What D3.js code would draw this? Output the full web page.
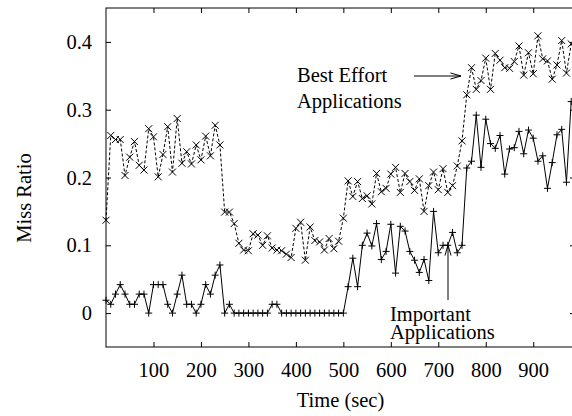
<!DOCTYPE html>
<html><head><meta charset="utf-8">
<script src="https://cdn.jsdelivr.net/npm/d3@7"></script>
<style>body{margin:0;background:#fff}svg{display:block}text{font-family:"Liberation Serif","Times New Roman",serif;fill:#000}</style>
</head><body><svg id="c" width="572" height="416"></svg>
<script>
const times = [0,10,20,30,40,50,60,70,80,90,100,110,120,130,140,150,160,170,180,190,200,210,220,230,240,250,260,270,280,290,300,310,320,330,340,350,360,370,380,390,400,410,420,430,440,450,460,470,480,490,500,510,520,530,540,550,560,570,580,590,600,610,620,630,640,650,660,670,680,690,700,710,720,730,740,750,760,770,780,790,800,810,820,830,840,850,860,870,880,890,900,910,920,930,940,950,960,970,980];
const bestEffort = [0.137,0.262,0.256,0.256,0.203,0.230,0.253,0.218,0.211,0.272,0.260,0.201,0.234,0.275,0.208,0.287,0.221,0.238,0.220,0.248,0.226,0.261,0.232,0.277,0.248,0.149,0.149,0.132,0.103,0.093,0.092,0.117,0.115,0.100,0.114,0.096,0.093,0.092,0.087,0.082,0.125,0.134,0.078,0.127,0.107,0.105,0.093,0.110,0.095,0.106,0.140,0.195,0.172,0.194,0.169,0.173,0.161,0.206,0.179,0.184,0.205,0.215,0.178,0.206,0.194,0.181,0.198,0.150,0.188,0.208,0.182,0.213,0.178,0.188,0.217,0.254,0.322,0.362,0.330,0.343,0.376,0.330,0.383,0.373,0.362,0.361,0.371,0.394,0.351,0.384,0.353,0.409,0.375,0.372,0.345,0.366,0.402,0.354,0.397];
const important = [0.019,0.013,0.028,0.042,0.028,0.013,0.013,0.028,0.028,0,0.042,0.042,0.042,0.013,0,0.028,0.056,0.013,0.013,0,0.013,0.042,0.028,0.056,0.071,0,0.013,0,0,0,0,0,0,0,0,0.013,0.013,0,0,0,0,0,0,0,0,0,0,0,0,0,0,0.039,0.081,0.039,0.100,0.118,0.099,0.132,0.079,0.091,0.131,0.059,0.128,0.121,0.091,0.078,0.060,0.079,0.048,0.150,0.089,0.100,0.100,0.119,0.089,0.100,0.214,0.224,0.292,0.215,0.286,0.250,0.243,0.262,0.205,0.242,0.244,0.268,0.235,0.270,0.258,0.224,0.232,0.184,0.222,0.263,0.271,0.193,0.312];
const xTicks = [100,200,300,400,500,600,700,800,900];
const yTicks = [0,0.1,0.2,0.3,0.4];
const xLabel = "Time (sec)", yLabel = "Miss Ratio";
const noteBest = ["Best Effort","Applications"];
const noteImportant = ["Important","Applications"];

const svg = d3.select("#c");
const L=106, R=575, T=8, B=347;
const x = d3.scaleLinear().domain([0,988]).range([L,R]);
const y = d3.scaleLinear().domain([-0.05,0.45]).range([B,T]);
const fs = 20.5;
const tk = 5;

svg.append("rect").attr("x",L).attr("y",T).attr("width",R-L).attr("height",B-T)
  .attr("fill","none").attr("stroke","#000").attr("stroke-width",1);

const gx = svg.append("g").attr("transform",`translate(0,${B})`)
  .call(d3.axisBottom(x).tickValues(xTicks).tickSizeInner(-tk).tickSizeOuter(0).tickPadding(15));
const gx2 = svg.append("g").attr("transform",`translate(0,${T})`)
  .call(d3.axisTop(x).tickValues(xTicks).tickSizeInner(-tk).tickSizeOuter(0).tickFormat(""));
const gy = svg.append("g").attr("transform",`translate(${L},0)`)
  .call(d3.axisLeft(y).tickValues(yTicks).tickSizeInner(-tk).tickSizeOuter(0).tickPadding(14).tickFormat(d=>d===0?"0":d3.format(".1f")(d)));
const gy2 = svg.append("g").attr("transform",`translate(${R},0)`)
  .call(d3.axisRight(y).tickValues(yTicks).tickSizeInner(-tk).tickSizeOuter(0).tickFormat(""));
[gx,gx2,gy,gy2].forEach(g=>{g.select(".domain").remove();g.selectAll("line").attr("stroke","#000");
  g.selectAll("text").attr("font-size",fs).attr("font-family",'"Liberation Serif","Times New Roman",serif').attr("fill","#000");});

svg.append("text").attr("x",(L+R)/2).attr("y",407).attr("text-anchor","middle").attr("font-size",fs).text(xLabel);
svg.append("text").attr("transform","translate(31,198) rotate(-90)").attr("text-anchor","middle").attr("font-size",fs).text(yLabel);

const be = times.map((t,i)=>[t,bestEffort[i]]);
const im = times.map((t,i)=>[t,important[i]]);
const line = d3.line().x(d=>x(d[0])).y(d=>y(d[1]));
svg.append("path").attr("d",line(be)).attr("fill","none").attr("stroke","#000").attr("stroke-width",1).attr("stroke-dasharray","3,2");
svg.append("path").attr("d",line(im)).attr("fill","none").attr("stroke","#000").attr("stroke-width",1);
const s=3.5;
svg.append("g").selectAll("path").data(be).join("path")
  .attr("d",d=>{const cx=x(d[0]),cy=y(d[1]);return `M${cx-s},${cy-s}L${cx+s},${cy+s}M${cx-s},${cy+s}L${cx+s},${cy-s}`;})
  .attr("stroke","#000").attr("stroke-width",1);
svg.append("g").selectAll("path").data(im).join("path")
  .attr("d",d=>{const cx=x(d[0]),cy=y(d[1]);return `M${cx-s},${cy}L${cx+s},${cy}M${cx},${cy-s}L${cx},${cy+s}`;})
  .attr("stroke","#000").attr("stroke-width",1);

function label(px,ys,lines){const t=svg.append("text").attr("font-size",fs);
  lines.forEach((l,i)=>t.append("tspan").attr("x",px).attr("y",ys[i]).text(l));}
label(297,[82,108],noteBest);
label(390,[321,339],noteImportant);
function arrow(x1,y1,x2,y2){
  svg.append("line").attr("x1",x1).attr("y1",y1).attr("x2",x2).attr("y2",y2).attr("stroke","#000").attr("stroke-width",1);
  const a=Math.atan2(y2-y1,x2-x1),len=11,w=0.28;
  const p1=[x2-len*Math.cos(a-w),y2-len*Math.sin(a-w)],p2=[x2-len*Math.cos(a+w),y2-len*Math.sin(a+w)];
  svg.append("path").attr("d",`M${p1}L${x2},${y2}L${p2}`).attr("fill","none").attr("stroke","#000").attr("stroke-width",1);
}
arrow(414,76,461,76);
arrow(448,300,448,245);
</script></body></html>
